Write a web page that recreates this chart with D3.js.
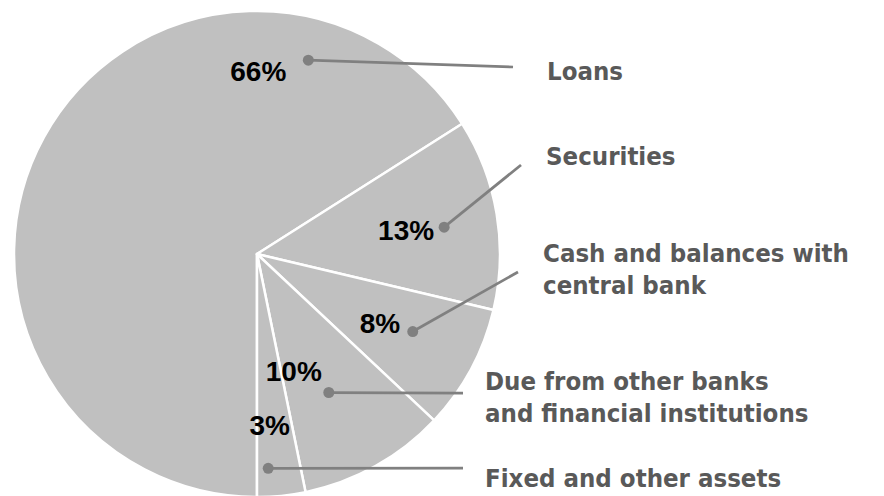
<!DOCTYPE html>
<html>
<head>
<meta charset="utf-8">
<script src="https://cdn.jsdelivr.net/npm/d3@7"></script>
<style>
  body { margin: 0; background: #fff; }
</style>
</head>
<body>
<div id="chart"></div>
<script>
// data
var categories = ["Loans", "Securities", "Cash and balances with central bank", "Due from other banks and financial institutions", "Fixed and other assets"]
var labelLines = [["Loans"], ["Securities"], ["Cash and balances with", "central bank"], ["Due from other banks", "and financial institutions"], ["Fixed and other assets"]]
var shares = [66.0, 12.7, 8.3, 9.8, 3.2]

// callout layout: where the dot sits in its slice (fraction of slice angle, fraction of radius),
// percent label offset from dot, leader end and category label position
var callouts = [
  {t: 0.82, rf: 0.825, dx: -22, dy: 21, anchor: "end", ex: 513, ey: 67, lx: 547, ly: 80},
  {t: 0.53, rf: 0.778, dx: -10, dy: 12.5, anchor: "end", ex: 521, ey: 165, lx: 546, ly: 165},
  {t: 0.44, rf: 0.716, dx: -12.5, dy: 1.6, anchor: "end", ex: 518, ey: 272, lx: 543, ly: 262},
  {t: 0.55, rf: 0.642, dx: -7, dy: -12, anchor: "end", ex: 463, ey: 393, lx: 485, ly: 390},
  {t: 0.74, rf: 0.883, dx: 1.5, dy: -33, anchor: "middle", ex: 463, ey: 468, lx: 485, ly: 487}
]

var width = 884, height = 496
var cx = 257, cy = 254, radius = 243
var pct = d3.format(".0f")

var data = categories.map((c, i) => ({name: c, lines: labelLines[i], value: shares[i], co: callouts[i]}))

var svg = d3.select("#chart")
  .append("svg")
  .attr("width", width)
  .attr("height", height)

var pie = d3.pie()
  .sort(null)
  .value(d => d.value)
  .startAngle(Math.PI)
  .endAngle(3 * Math.PI)

var arc = d3.arc()
  .innerRadius(0)
  .outerRadius(radius)

var arcs = pie(data)

var g = svg.append("g")
  .attr("transform", "translate(" + cx + "," + cy + ")")

g.selectAll("path.slice")
  .data(arcs)
  .enter()
  .append("path")
  .attr("class", "slice")
  .attr("d", arc)
  .attr("fill", "#c0c0c0")
  .attr("stroke", "#fff")
  .attr("stroke-width", 2.5)
  .attr("stroke-linejoin", "round")

// dot position inside each slice
arcs.forEach(a => {
  var co = a.data.co
  var ang = a.startAngle + (a.endAngle - a.startAngle) * co.t
  var r = radius * co.rf
  a.px = cx + Math.sin(ang) * r
  a.py = cy - Math.cos(ang) * r
})

svg.selectAll("line.leader")
  .data(arcs)
  .enter()
  .append("line")
  .attr("class", "leader")
  .attr("x1", d => d.px)
  .attr("y1", d => d.py)
  .attr("x2", d => d.data.co.ex)
  .attr("y2", d => d.data.co.ey)
  .attr("stroke", "#808080")
  .attr("stroke-width", 2.75)

svg.selectAll("circle.dot")
  .data(arcs)
  .enter()
  .append("circle")
  .attr("class", "dot")
  .attr("cx", d => d.px)
  .attr("cy", d => d.py)
  .attr("r", 5.5)
  .attr("fill", "#808080")

svg.selectAll("text.pct")
  .data(arcs)
  .enter()
  .append("text")
  .attr("class", "pct")
  .text(d => pct(d.data.value) + "%")
  .attr("x", d => d.px + d.data.co.dx)
  .attr("y", d => d.py + d.data.co.dy)
  .attr("text-anchor", d => d.data.co.anchor)
  .attr("font-family", "'Liberation Sans', Arial, sans-serif")
  .attr("font-weight", 700)
  .attr("font-size", 28)
  .attr("fill", "#000")

// category labels, slightly condensed to look like Tahoma bold
var cat = svg.selectAll("text.cat")
  .data(arcs)
  .enter()
  .append("text")
  .attr("class", "cat")
  .attr("transform", d => "translate(" + d.data.co.lx + "," + d.data.co.ly + ") scale(0.92,1)")
  .attr("font-family", "'DejaVu Sans', Verdana, sans-serif")
  .attr("font-weight", 700)
  .attr("font-size", 25)
  .attr("fill", "#595959")

cat.selectAll("tspan")
  .data(d => d.data.lines)
  .enter()
  .append("tspan")
  .attr("x", 0)
  .attr("dy", (d, i) => i ? 32 : 0)
  .text(d => d)
</script>
</body>
</html>
